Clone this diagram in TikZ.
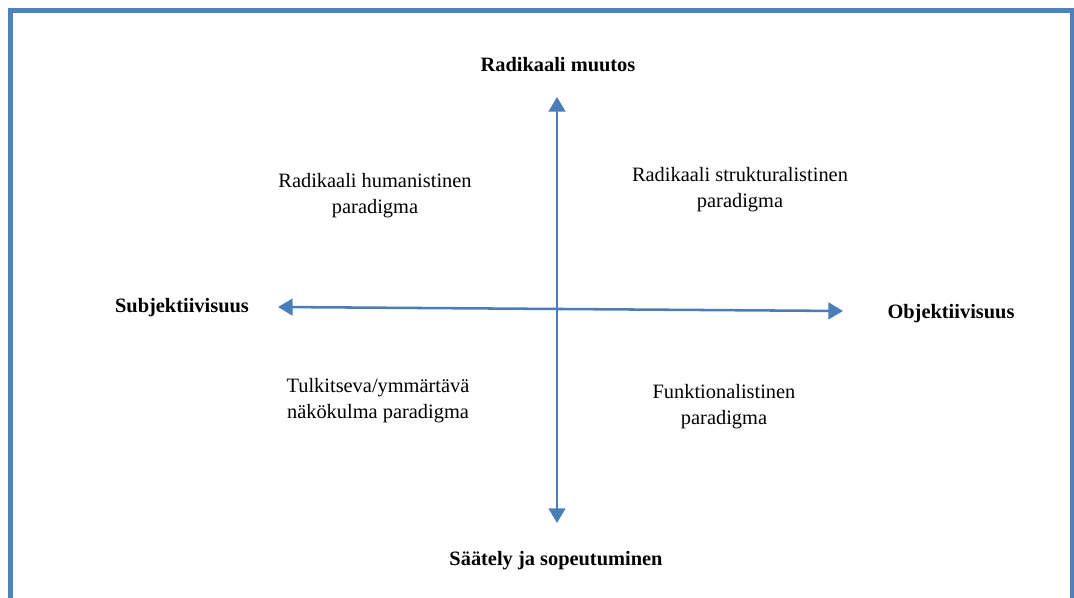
\documentclass[tikz,border=0pt]{standalone}
\usepackage{fontspec}
\setmainfont{Liberation Serif}
\usetikzlibrary{arrows.meta}
\definecolor{frameblue}{HTML}{4F81BD}
\definecolor{axisblue}{HTML}{4A7EBB}
\begin{document}
\begin{tikzpicture}[x=0.75pt,y=-0.75pt,
  axis/.style={axisblue, line width=1.9pt,
    {Triangle[length=11pt,width=12.5pt]}-{Triangle[length=11pt,width=12.5pt]}},
  pole/.style={font=\fontsize{15.3}{19.5}\selectfont\bfseries, inner sep=0pt, anchor=base},
  quad/.style={font=\fontsize{15.3}{19.5}\selectfont, align=center, inner sep=0pt, anchor=base}]
\useasboundingbox (0,0) rectangle (1074,598);
% outer frame, open at the bottom edge of the page
\begin{scope}
  \clip (0,0) rectangle (1074,598);
  \draw[frameblue, line width=3.75pt] (10,11) rectangle (1072,640);
\end{scope}

% axis end points
\coordinate (top) at (557,97);
\coordinate (bottom) at (557,523);
\coordinate (left) at (278,307);
\coordinate (right) at (843,311);

\draw[axis] (bottom) -- (top);
\draw[axis] (left) -- (right);

% pole labels
\node[pole] (radical) at (558,72) {Radikaali muutos};
\node[pole] (regulation) at (556,565) {Säätely ja sopeutuminen};
\node[pole] (subjective) at (182,313) {Subjektiivisuus};
\node[pole] (objective) at (951,319) {Objektiivisuus};

% quadrant labels (anchored at the baseline of the last line)
\node[quad] (humanist) at (375,214) {Radikaali humanistinen\\paradigma};
\node[quad] (structural) at (740,208) {Radikaali strukturalistinen\\paradigma};
\node[quad] (interpretive) at (378,418) {Tulkitseva/ymmärtävä\\näkökulma paradigma};
\node[quad] (functionalist) at (724,424) {Funktionalistinen\\paradigma};
\end{tikzpicture}
\end{document}
